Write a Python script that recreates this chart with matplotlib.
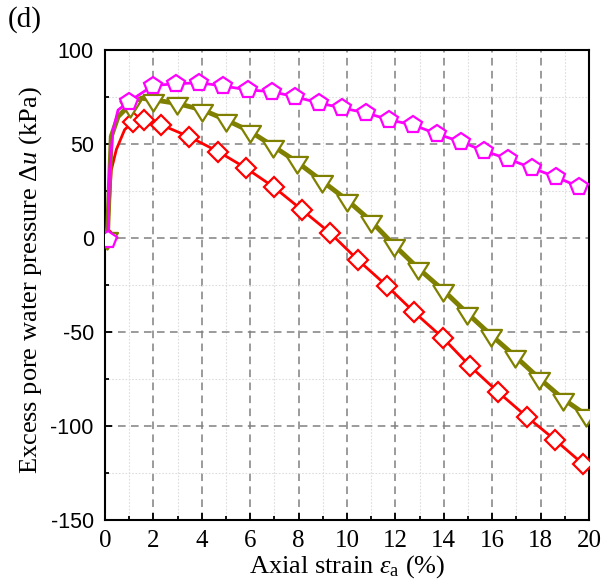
import matplotlib
matplotlib.use("Agg")
import matplotlib.pyplot as plt
from matplotlib.ticker import MultipleLocator

plt.rcParams['font.family'] = 'Liberation Serif'
plt.rcParams['axes.unicode_minus'] = False
plt.rcParams['mathtext.fontset'] = 'custom'
plt.rcParams['mathtext.rm'] = 'Liberation Serif'
plt.rcParams['mathtext.it'] = 'Liberation Serif:italic'

# magenta pentagons
strain_m = [0.12, 0.19, 0.33, 0.54, 0.99, 1.98, 2.92, 3.9, 4.88, 5.91, 6.89, 7.87,
            8.84, 9.79, 10.79, 11.74, 12.73, 13.72, 14.71, 15.66, 16.65, 17.64, 18.64, 19.6]
du_m = [-1, 36, 57, 68, 72.5, 81, 82, 82.5, 80.8, 78.7, 77.8, 75,
        71.8, 69.1, 66.5, 62.8, 60.1, 55.3, 51.1, 46.3, 42.0, 37.2, 32.4, 27.1]
marks_m = [0] + list(range(4, len(strain_m)))

# olive triangles
strain_o = [0.1, 0.26, 0.54, 0.81, 1.02, 1.5, 1.98, 2.98, 4.03, 5.0, 5.99, 6.94, 7.93,
            8.97, 10.0, 10.99, 11.94, 12.93, 13.97, 14.96, 15.95, 16.94, 17.93, 18.93, 19.88, 20]
du_o = [0, 54, 64.5, 68, 70, 74.3, 73.5, 71.5, 68.1, 62.8, 56.7, 48.9, 40.4,
        30.3, 20.2, 9.0, -3.7, -16.0, -27.7, -39.9, -51.6, -62.8, -74.5, -85.6, -94.1, -96.5]
marks_o = [0, 4] + list(range(6, len(strain_o) - 1))

# red diamonds
strain_r = [0.1, 0.26, 0.47, 0.81, 1.16, 1.6, 2.33, 3.46, 4.68, 5.83, 6.98, 8.14,
            9.3, 10.45, 11.65, 12.77, 13.97, 15.08, 16.24, 17.44, 18.6, 19.75, 20]
du_r = [0, 36, 47, 57.5, 61.9, 62.5, 60.1, 53.9, 45.9, 37.1, 27.0, 14.9,
        2.7, -11.7, -25.5, -39.4, -53.2, -68.1, -81.9, -95.2, -107.4, -120.2, -122.5]
marks_r = [0] + list(range(4, len(strain_r) - 1))

# downward triangle centred on its centroid (like Origin)
tri_down = [(-1, 0.53), (1, 0.53), (0, -1.06), (-1, 0.53)]

fig = plt.figure(figsize=(6.11, 5.84), dpi=100)
ax = fig.add_axes([0.1718, 0.1096, 0.7921, 0.805])

ax.plot(strain_r, du_r, color='#ff0000', lw=2, marker='D', markersize=10,
        markerfacecolor='white', markeredgewidth=1.6, markevery=marks_r, zorder=3)
ax.plot(strain_o, du_o, color='#808000', lw=3.5, marker=tri_down, markersize=16,
        markerfacecolor='white', markeredgewidth=1.6, markevery=marks_o, zorder=4)
ax.plot(strain_m, du_m, color='#ff00ff', lw=2, marker='p', markersize=13,
        markerfacecolor='white', markeredgewidth=1.6, markevery=marks_m, zorder=5)

ax.set_xlim(0, 20)
ax.set_ylim(-150, 100)
ax.xaxis.set_major_locator(MultipleLocator(2))
ax.xaxis.set_minor_locator(MultipleLocator(1))
ax.yaxis.set_major_locator(MultipleLocator(50))
ax.yaxis.set_minor_locator(MultipleLocator(25))

ax.grid(which='major', color='#808080', lw=1.1, linestyle=(0, (5, 3.5)))
ax.grid(which='minor', color='#dddddd', lw=0.8, linestyle=(0, (1.5, 1.5)))
ax.set_axisbelow(True)

for s in ax.spines.values():
    s.set_linewidth(1.5)

ax.tick_params(which='both', direction='in', width=1.3, top=False, right=False)
ax.tick_params(which='major', length=5)
ax.tick_params(which='minor', length=3)
ax.tick_params(axis='x', labelsize=18, pad=7)
ax.tick_params(axis='y', labelsize=15.5, pad=8, labelfontfamily='Liberation Sans')

ax.set_xlabel(r'Axial strain $\varepsilon_{\mathrm{a}}$ (%)', fontsize=19, labelpad=1)
ax.set_ylabel(r'Excess pore water pressure $\Delta u$ (kPa)', fontsize=19)
ax.yaxis.set_label_coords(-0.125, 0.51)

fig.text(0.012, 0.99, '(d)', fontsize=21, va='top', ha='left')

fig.savefig('out.png', dpi=100)
